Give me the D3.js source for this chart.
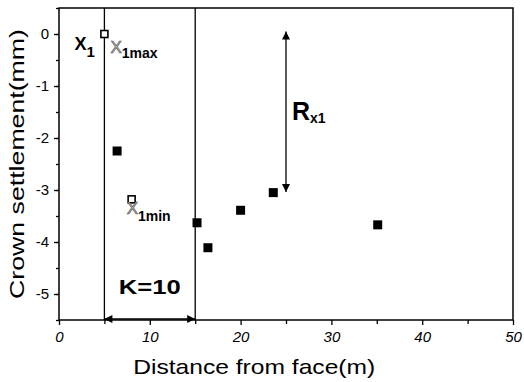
<!DOCTYPE html>
<html>
<head>
<meta charset="utf-8">
<script src="https://cdn.jsdelivr.net/npm/d3@7"></script>
<style>
  body { margin: 0; background: #fff; }
  svg { font-family: "Liberation Sans", Arial, sans-serif; }
</style>
</head>
<body>
<svg width="524" height="382"></svg>
<script>
// measured settlement (filled squares)
var distFilled = [6.4, 15.2, 16.4, 20.0, 23.6, 35.1];
var settleFilled = [-2.25, -3.63, -4.11, -3.39, -3.05, -3.67];
// x1max / x1min points (open squares)
var distOpen = [5.0, 8.0];
var settleOpen = [0.0, -3.18];
// vertical guide lines (K=10)
var guideX = [5, 15];
var xTicks = [0, 10, 20, 30, 40, 50];
var yTicks = [0, -1, -2, -3, -4, -5];

var margin = { left: 59, top: 8, right: 11, bottom: 62 },
    width = 524 - margin.left - margin.right,
    height = 382 - margin.top - margin.bottom;

var svg = d3.select("svg");
var g = svg.append("g")
    .attr("transform", "translate(" + margin.left + "," + margin.top + ")");

var xScale = d3.scaleLinear().domain([0, 50]).range([0, width]);
var yScale = d3.scaleLinear().domain([-5.5, 0.5]).range([height, 0]);

// frame
g.append("rect")
    .attr("width", width).attr("height", height)
    .attr("fill", "none").attr("stroke", "#000").attr("stroke-width", 1.5);

// minor ticks
var xAxisMinor = d3.axisBottom(xScale).tickValues(d3.range(5, 50, 10)).tickSize(4).tickFormat("");
var yAxisMinor = d3.axisLeft(yScale).tickValues(d3.range(-5.5, 0.6, 0.5)).tickSize(3).tickFormat("");
// major ticks
var xAxis = d3.axisBottom(xScale).tickValues(xTicks).tickSize(5).tickPadding(6).tickFormat(d3.format("d"));
var yAxis = d3.axisLeft(yScale).tickValues(yTicks).tickSize(5).tickPadding(5).tickFormat(function (d) { return d === 0 ? "0" : "-" + Math.abs(d); });

g.append("g").attr("transform", "translate(0," + height + ")").call(xAxisMinor);
g.append("g").call(yAxisMinor);
var xg = g.append("g").attr("transform", "translate(0," + height + ")").call(xAxis);
var yg = g.append("g").call(yAxis);
g.selectAll(".domain").remove();
g.selectAll(".tick line").attr("stroke", "#000").attr("stroke-width", 1.3);
xg.selectAll("text").attr("font-size", 15).attr("font-style", "italic").attr("fill", "#000");
yg.selectAll("text").attr("font-size", 15).attr("fill", "#000");

// guide lines
g.selectAll("line.guide")
    .data(guideX)
    .join("line")
    .attr("class", "guide")
    .attr("x1", d => xScale(d)).attr("x2", d => xScale(d))
    .attr("y1", 0).attr("y2", height)
    .attr("stroke", "#000").attr("stroke-width", 1.3);

// arrow markers
var defs = svg.append("defs");
defs.append("marker")
    .attr("id", "arr")
    .attr("viewBox", "0 0 10 10")
    .attr("refX", 10).attr("refY", 5)
    .attr("markerWidth", 10).attr("markerHeight", 8)
    .attr("markerUnits", "userSpaceOnUse")
    .attr("orient", "auto-start-reverse")
    .append("path").attr("d", "M0,0L10,5L0,10Z").attr("fill", "#000");

// K=10 horizontal double arrow
g.append("line")
    .attr("x1", xScale(guideX[0])).attr("x2", xScale(guideX[1]))
    .attr("y1", height - 1).attr("y2", height - 1)
    .attr("stroke", "#000").attr("stroke-width", 1.3)
    .attr("marker-start", "url(#arr)").attr("marker-end", "url(#arr)");

// R_x1 vertical double arrow
g.append("line")
    .attr("x1", xScale(25)).attr("x2", xScale(25))
    .attr("y1", yScale(0.05)).attr("y2", yScale(-3.04))
    .attr("stroke", "#000").attr("stroke-width", 1.3)
    .attr("marker-start", "url(#arr)").attr("marker-end", "url(#arr)");

// points
var sq = 9;
g.selectAll("rect.filled")
    .data(distFilled)
    .join("rect")
    .attr("class", "filled")
    .attr("x", (d, i) => xScale(d) - sq / 2)
    .attr("y", (d, i) => yScale(settleFilled[i]) - sq / 2)
    .attr("width", sq).attr("height", sq)
    .attr("fill", "#000");

var osq = 7;
g.selectAll("rect.open")
    .data(distOpen)
    .join("rect")
    .attr("class", "open")
    .attr("x", (d, i) => xScale(d) - osq / 2)
    .attr("y", (d, i) => yScale(settleOpen[i]) - osq / 2)
    .attr("width", osq).attr("height", osq)
    .attr("fill", "#fff").attr("stroke", "#000").attr("stroke-width", 1.6);

// annotation labels
function label(x, y, parts) {
    var t = g.append("text").attr("x", x).attr("y", y);
    parts.forEach(function (p) {
        t.append("tspan")
            .attr("font-size", p.size)
            .attr("font-weight", p.bold ? "bold" : "normal")
            .attr("fill", p.fill || "#000")
            .attr("stroke", p.stroke || null)
            .attr("stroke-width", p.stroke ? 0.6 : null)
            .attr("dy", p.dy || 0)
            .text(p.text);
    });
    return t;
}
label(xScale(5) - 30, yScale(0) + 16, [
    { text: "X", size: 18, bold: true },
    { text: "1", size: 15, bold: true, dy: 7 }
]);
label(xScale(5) + 6, yScale(0) + 19, [
    { text: "X", size: 17, fill: "#bbb", stroke: "#555" },
    { text: "1max", size: 14, bold: true, dy: 5 }
]);
label(xScale(8.0) - 5, yScale(-3.18) + 15, [
    { text: "X", size: 17, fill: "#bbb", stroke: "#555" },
    { text: "1min", size: 14, bold: true, dy: 7 }
]);
label(xScale(25) + 6, yScale(-1.65), [
    { text: "R", size: 25, bold: true },
    { text: "x1", size: 14, bold: true, dy: 3 }
]);
label(xScale(10), yScale(-5.0), [
    { text: "K=10", size: 21, bold: true }
]).attr("text-anchor", "middle").attr("textLength", 62).attr("lengthAdjust", "spacingAndGlyphs");

// axis titles
g.append("text")
    .attr("x", xScale(21.5)).attr("y", height + 54)
    .attr("text-anchor", "middle").attr("font-size", 21)
    .attr("textLength", 242).attr("lengthAdjust", "spacingAndGlyphs")
    .text("Distance from face(m)");
g.append("text")
    .attr("transform", "translate(-35," + yScale(-2.5) + ") rotate(-90)")
    .attr("text-anchor", "middle").attr("font-size", 21)
    .attr("textLength", 270).attr("lengthAdjust", "spacingAndGlyphs")
    .text("Crown settlement(mm)");
</script>
</body>
</html>
